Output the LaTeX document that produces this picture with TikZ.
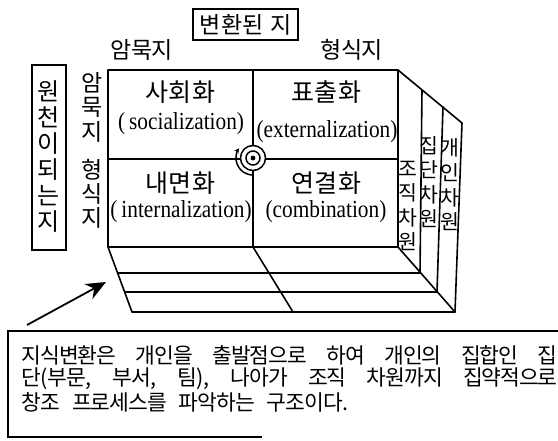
\documentclass[tikz,border=0pt]{standalone}
\usepackage{fontspec}
\setmainfont{Liberation Serif}
\newfontfamily\kr{Noto Sans CJK KR}
\newfontfamily\en{Liberation Serif}[FakeStretch=0.87]
\usetikzlibrary{arrows.meta,calc}
\makeatletter
\newcommand\hw[2][18.7pt]{\@tfor\hw@c:=#2\do{\makebox[#1]{\hw@c}}}
\makeatother
\tikzset{
  edge/.style={line width=1.6pt, line cap=round, line join=round},
  frame/.style={line width=1.5pt},
  krlab/.style={font=\kr\fontsize{25}{25}\selectfont, inner sep=0pt},
  enlab/.style={font=\en\fontsize{24.5}{24.5}\selectfont, inner sep=0pt},
  vert/.style={align=center, inner sep=0pt},
  body/.style={anchor=west, inner sep=0pt, font=\kr\fontsize{21.5}{21.5}\selectfont},
}
\begin{document}
\begin{tikzpicture}[x=1pt,y=-1pt]
\useasboundingbox (0,0) rectangle (558,441);

% ---- corner points of the box
\coordinate (FTL) at (108,70);
\coordinate (FTM) at (253,70);
\coordinate (FTR) at (398,70);
\coordinate (FML) at (108,159);
\coordinate (FMR) at (398,159);
\coordinate (FBL) at (108,247);
\coordinate (FBM) at (253,247);
\coordinate (FBR) at (398,247);
\coordinate (S1T) at (422,90);
\coordinate (S2T) at (443,107);
\coordinate (S3T) at (462,123);
\coordinate (S1B) at (420,273);
\coordinate (S2B) at (437,292);
\coordinate (S3B) at (455,312);
\coordinate (L1) at (118,273);
\coordinate (L2) at (125,292);
\coordinate (L3) at (132,312);
\coordinate (M3) at (293,312);

% front face
\draw[edge] (FTL) rectangle (FBR);
\draw[edge] (FTM) -- (FBM);
\draw[edge] (FML) -- (FMR);
% right side
\draw[edge] (FTR) -- (S3T) -- (S3B) -- (FBR);
\draw[edge] (S1T) -- (S1B);
\draw[edge] (S2T) -- (S2B);
% bottom face
\draw[edge] (FBL) -- (L3) -- (S3B);
\draw[edge] (L1) -- (S1B);
\draw[edge] (L2) -- (S2B);
\draw[edge] (FBM) -- (M3);

% centre symbol
\coordinate (C) at (253,158);
\draw[line width=1.5pt, fill=white] (C) circle[radius=12.5];
\draw[line width=1.5pt] (C) circle[radius=7];
\fill (C) circle[radius=2.4];
\draw[line width=1.5pt, -{Stealth[length=5pt,width=5pt]}] ($(C)+(0,17)$) arc[start angle=90, end angle=215, radius=17];

% cell labels
\node[krlab] (soc) at (180,92) {\hw[23.5pt]{사회화}};
\node[enlab] (socE) at (181,124) {(\,socialization)};
\node[krlab] (ext) at (326,92) {\hw[23.5pt]{표출화}};
\node[enlab] (extE) at (327,132) {(externalization)};
\node[krlab] (int) at (180,183) {\hw[23.5pt]{내면화}};
\node[enlab] (intE) at (181,212) {(\,internalization)};
\node[krlab] (com) at (326,183) {\hw[23.5pt]{연결화}};
\node[enlab] (comE) at (326,212) {(combination)};

% top labels
\node[draw, frame, inner sep=0pt, minimum width=105pt, minimum height=31pt,
      font=\kr\fontsize{23}{23}\selectfont] (conv) at (245.5,24.5) {\hw[21.5pt]{변환된}\hspace{6pt}\hw[21.5pt]{지}};
\node[inner sep=0pt, font=\kr\fontsize{23}{23}\selectfont] (tacitT) at (142,50) {\hw[20.5pt]{암묵지}};
\node[inner sep=0pt, font=\kr\fontsize{23}{23}\selectfont] (explT) at (352,50) {\hw[20.5pt]{형식지}};

% left labels
\draw[frame] (32,65) rectangle (66,250);
\node[vert, font=\kr\fontsize{24}{26}\selectfont] (src) at (49,157) {원\\천\\이\\되\\는\\지};
\node[vert, font=\kr\fontsize{23}{24.5}\selectfont] (tacitL) at (92,107) {암\\묵\\지};
\node[vert, font=\kr\fontsize{23}{24}\selectfont] (explL) at (92,194) {형\\식\\지};

% side labels
\node[vert, font=\kr\fontsize{20.5}{24.3}\selectfont] (org) at (408,206) {조\\직\\차\\원};
\node[vert, font=\kr\fontsize{20.5}{24.3}\selectfont] (grp) at (429,182) {집\\단\\차\\원};
\node[vert, font=\kr\fontsize{20.5}{24.7}\selectfont] (ind) at (450,185) {개\\인\\차\\원};

% arrow
\coordinate (A0) at (27,325);
\coordinate (A1) at (106,282);
\draw[line width=1.8pt, -{Stealth[length=20pt,width=17pt]}] (A0) -- (A1);

% text box
\draw[frame] (558,331) -- (8,331) -- (8,437) -- (262,437);
\node[body] (t1) at (22,355)
  {\hbox to 535pt{\hw{지식변환은}\hfill\hw{개인을}\hfill\hw{출발점으로}\hfill\hw{하여}\hfill\hw{개인의}\hfill\hw{집합인}\hfill\hw{집}}};
\node[body] (t2) at (22,379)
  {\hbox to 535pt{\hw{단}(\hw{부문},\hfill\hw{부서},\hfill\hw{팀}),\hfill\hw{나아가}\hfill\hw{조직}\hfill\hw{차원까지}\hfill\hw{집약적으로}}};
\node[body] (t3) at (22,402)
  {\hbox to 326pt{\hw{창조}\hfill\hw{프로세스를}\hfill\hw{파악하는}\hfill\hw{구조이다}.}};
\end{tikzpicture}
\end{document}
